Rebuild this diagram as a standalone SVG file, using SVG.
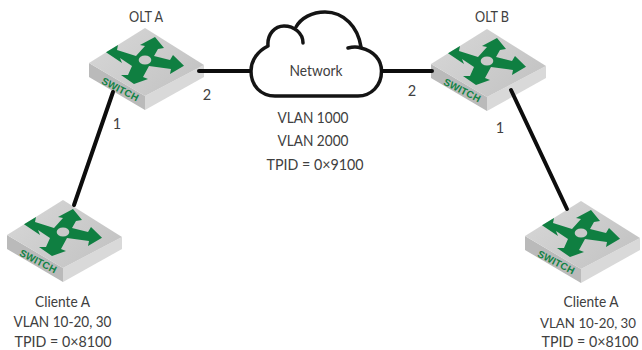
<svg xmlns="http://www.w3.org/2000/svg" width="642" height="350" viewBox="0 0 642 350">
<style>
text{font-family:"Lato","Open Sans",sans-serif;font-size:14.500px;fill:#404040;text-anchor:middle}
.w{font-family:"Liberation Sans",sans-serif;font-size:10px;font-weight:700;fill:#118244;text-anchor:start}
.ln{stroke:#0d0d0d;stroke-width:4;fill:none;stroke-linecap:round}
.cl{stroke:#141414;stroke-width:3.500;fill:none;stroke-linecap:round;stroke-linejoin:round}
</style>
<defs>
<linearGradient id="top" x1="0" y1="0" x2="1" y2="0.600"><stop offset="0" stop-color="#d8d8d8"/><stop offset="1" stop-color="#c4c4c4"/></linearGradient>
<g id="sw">
<path d="M0 0 L56 33 L56 47 L0 14Z" fill="#bababa"/>
<path d="M115 2 L56 33 L56 47 L115 14Z" fill="#d9d9d9"/>
<path d="M0 0 L56 -35 L115 2 L56 33Z" fill="url(#top)"/>
<path fill="#0f7f41" d="M66 -26L75 -15L69 -14L65 -7L81 -3L84 -8L95 2.700L81 11L82 6L60 3L54 14L59 16L45 21L32 12L39 12L43 3L31 -5L33 0L17 -10.700L29 -18L28 -13L47 -7L56 -17L51 -18Z"/>
<ellipse cx="56" cy="-3" rx="6.300" ry="4.500" fill="#c9c9c9"/>
<text class="w" transform="translate(11.700,20.300) rotate(27)" textLength="40" lengthAdjust="spacing">SWITCH</text>
</g>
</defs>
<g id="olt-a"><use href="#sw" x="89" y="63"/><text x="146" y="22" textLength="34" lengthAdjust="spacingAndGlyphs">OLT A</text><text x="207" y="100">2</text><text x="117" y="129">1</text></g>
<g id="network">
<path class="cl" d="M348 48C352 47 358 47 361 48C374 51 381.500 60 381.500 71C381.500 86 371 96 358 96H275C261 96 251 86 251 71C251 60 258 51 268 46C267 34 275 26 284 26C294 26 303 33 303 43"/>
<path class="cl" d="M296 27C301 18 312 12 325 12C344 12 358 27 361 47"/>
<text x="316" y="76" textLength="53" lengthAdjust="spacingAndGlyphs">Network</text>
<text x="313" y="123" textLength="71" lengthAdjust="spacingAndGlyphs">VLAN 1000</text><text x="313" y="146" textLength="71" lengthAdjust="spacingAndGlyphs">VLAN 2000</text><text x="315" y="170" textLength="97" lengthAdjust="spacingAndGlyphs">TPID = 0×9100</text>
<text x="412" y="96">2</text>
</g>
<g id="olt-b"><use href="#sw" x="431" y="64"/><text x="492" y="22" textLength="34" lengthAdjust="spacingAndGlyphs">OLT B</text><text x="500" y="133">1</text></g>
<g id="cliente-a1"><use href="#sw" x="7" y="235"/><text x="62.500" y="307" textLength="55" lengthAdjust="spacingAndGlyphs">Cliente A</text><text x="62.500" y="327" textLength="98" lengthAdjust="spacingAndGlyphs">VLAN 10-20, 30</text><text x="63" y="346.700" textLength="97" lengthAdjust="spacingAndGlyphs">TPID = 0×8100</text></g>
<g id="cliente-a2"><use href="#sw" x="525" y="236"/><text x="591" y="307" textLength="55" lengthAdjust="spacingAndGlyphs">Cliente A</text><text x="588" y="327.500" textLength="96" lengthAdjust="spacingAndGlyphs" style="font-size:14px">VLAN 10-20, 30</text><text x="590" y="346.700" textLength="97" lengthAdjust="spacingAndGlyphs">TPID = 0×8100</text></g>
<g id="connectors">
<path class="ln" d="M199 71H250"/>
<path class="ln" d="M382 71H432"/>
<path class="ln" d="M113 92L74 205"/>
<path class="ln" d="M511 90L567 209"/>
</g>
</svg>
